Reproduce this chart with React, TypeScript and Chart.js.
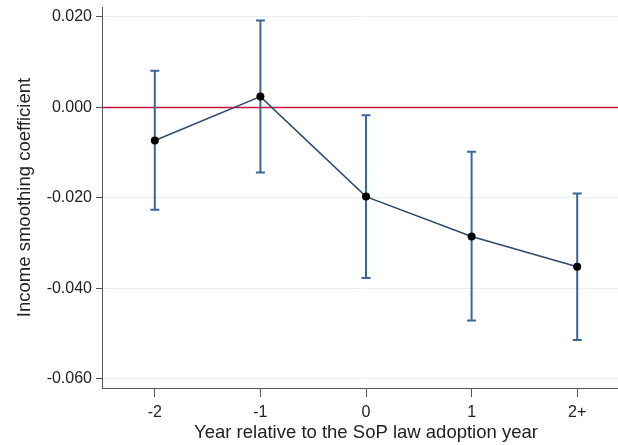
import React, { useEffect, useRef } from "react";
import { Chart, registerables } from "chart.js";

Chart.register(...registerables);

const categories = ["-2", "-1", "0", "1", "2+"];
const xPositions = [-2, -1, 0, 1, 2];
const coefficients = [-0.0073, 0.0024, -0.0197, -0.0285, -0.0352];
const ciLower = [-0.0226, -0.0144, -0.0377, -0.0471, -0.0514];
const ciUpper = [0.0081, 0.0192, -0.0017, -0.0098, -0.019];
const yTicks = [-0.06, -0.04, -0.02, 0, 0.02];

const FONT = "'Liberation Sans', Arial, sans-serif";
const TEXT = "#222222";
const AXIS = "#555555";

const zeroLinePlugin = {
  id: "zeroLine",
  beforeDatasetsDraw(chart: any) {
    const { ctx, chartArea, scales } = chart;
    const y = scales.y.getPixelForValue(0);
    ctx.save();
    ctx.strokeStyle = "#c8143c";
    ctx.lineWidth = 1.5;
    ctx.beginPath();
    ctx.moveTo(chartArea.left, y);
    ctx.lineTo(chartArea.right, y);
    ctx.stroke();
    ctx.restore();
  },
};

const errorBarPlugin = {
  id: "errorBars",
  beforeDatasetsDraw(chart: any) {
    const { ctx, scales } = chart;
    ctx.save();
    ctx.strokeStyle = "#3b6797";
    ctx.lineWidth = 2;
    xPositions.forEach((xv, i) => {
      const x = scales.x.getPixelForValue(xv);
      const yl = scales.y.getPixelForValue(ciLower[i]);
      const yu = scales.y.getPixelForValue(ciUpper[i]);
      ctx.beginPath();
      ctx.moveTo(x, yl);
      ctx.lineTo(x, yu);
      ctx.moveTo(x - 4.5, yl);
      ctx.lineTo(x + 4.5, yl);
      ctx.moveTo(x - 4.5, yu);
      ctx.lineTo(x + 4.5, yu);
      ctx.stroke();
    });
    ctx.restore();
  },
};

export default function App() {
  const ref = useRef<HTMLCanvasElement | null>(null);

  useEffect(() => {
    if (!ref.current) return;
    const chart = new Chart(ref.current, {
      type: "line",
      data: {
        datasets: [
          {
            data: xPositions.map((x, i) => ({ x, y: coefficients[i] })),
            borderColor: "#2b4a6b",
            borderWidth: 1.5,
            pointBackgroundColor: "#000000",
            pointBorderColor: "#000000",
            pointRadius: 4,
            pointBorderWidth: 0,
            tension: 0,
          },
        ],
      },
      options: {
        responsive: false,
        animation: false,
        layout: { padding: { top: 7, left: 0, right: 0, bottom: 0 } },
        plugins: {
          legend: { display: false },
          tooltip: { enabled: false },
        },
        scales: {
          x: {
            type: "linear",
            min: -2.5,
            max: 2.5,
            afterBuildTicks: (scale: any) => {
              scale.ticks = xPositions.map((v) => ({ value: v }));
            },
            afterFit: (scale: any) => {
              scale.height = 57;
              scale.paddingLeft = 0;
              scale.paddingRight = 0;
            },
            grid: {
              drawOnChartArea: false,
              drawTicks: true,
              tickLength: 9,
              tickColor: AXIS,
            },
            border: { display: true, color: AXIS, width: 1 },
            ticks: {
              padding: 6,
              color: TEXT,
              font: { family: FONT, size: 16 },
              maxRotation: 0,
              callback: (value: any) => {
                const idx = xPositions.indexOf(Number(value));
                return idx >= 0 ? categories[idx] : "";
              },
            },
            title: {
              display: true,
              text: "Year relative to the SoP law adoption year",
              color: TEXT,
              font: { family: FONT, size: 18.5 },
              padding: { top: 0, bottom: 1 },
            },
          },
          y: {
            type: "linear",
            min: -0.062,
            max: 0.0222,
            afterBuildTicks: (scale: any) => {
              scale.ticks = yTicks.map((v) => ({ value: v }));
            },
            afterFit: (scale: any) => {
              scale.width = 102;
              scale.paddingTop = 0;
              scale.paddingBottom = 0;
            },
            grid: {
              drawOnChartArea: true,
              color: "#e8eded",
              lineWidth: 1,
              drawTicks: true,
              tickLength: 6,
              tickColor: AXIS,
            },
            border: { display: true, color: AXIS, width: 1 },
            ticks: {
              padding: 4,
              color: TEXT,
              font: { family: FONT, size: 16 },
              callback: (value: any) => Number(value).toFixed(3),
            },
            title: {
              display: true,
              text: "Income smoothing coefficient",
              color: TEXT,
              font: { family: FONT, size: 18.5 },
              padding: { top: 14, bottom: 0 },
            },
          },
        },
      },
      plugins: [zeroLinePlugin, errorBarPlugin],
    } as any);
    return () => chart.destroy();
  }, []);

  return (
    <div
      style={{
        position: "absolute",
        left: 0,
        top: 0,
        width: 618,
        height: 445,
        overflow: "hidden",
        background: "#fff",
      }}
    >
      <canvas ref={ref} width={634} height={445} />
    </div>
  );
}
